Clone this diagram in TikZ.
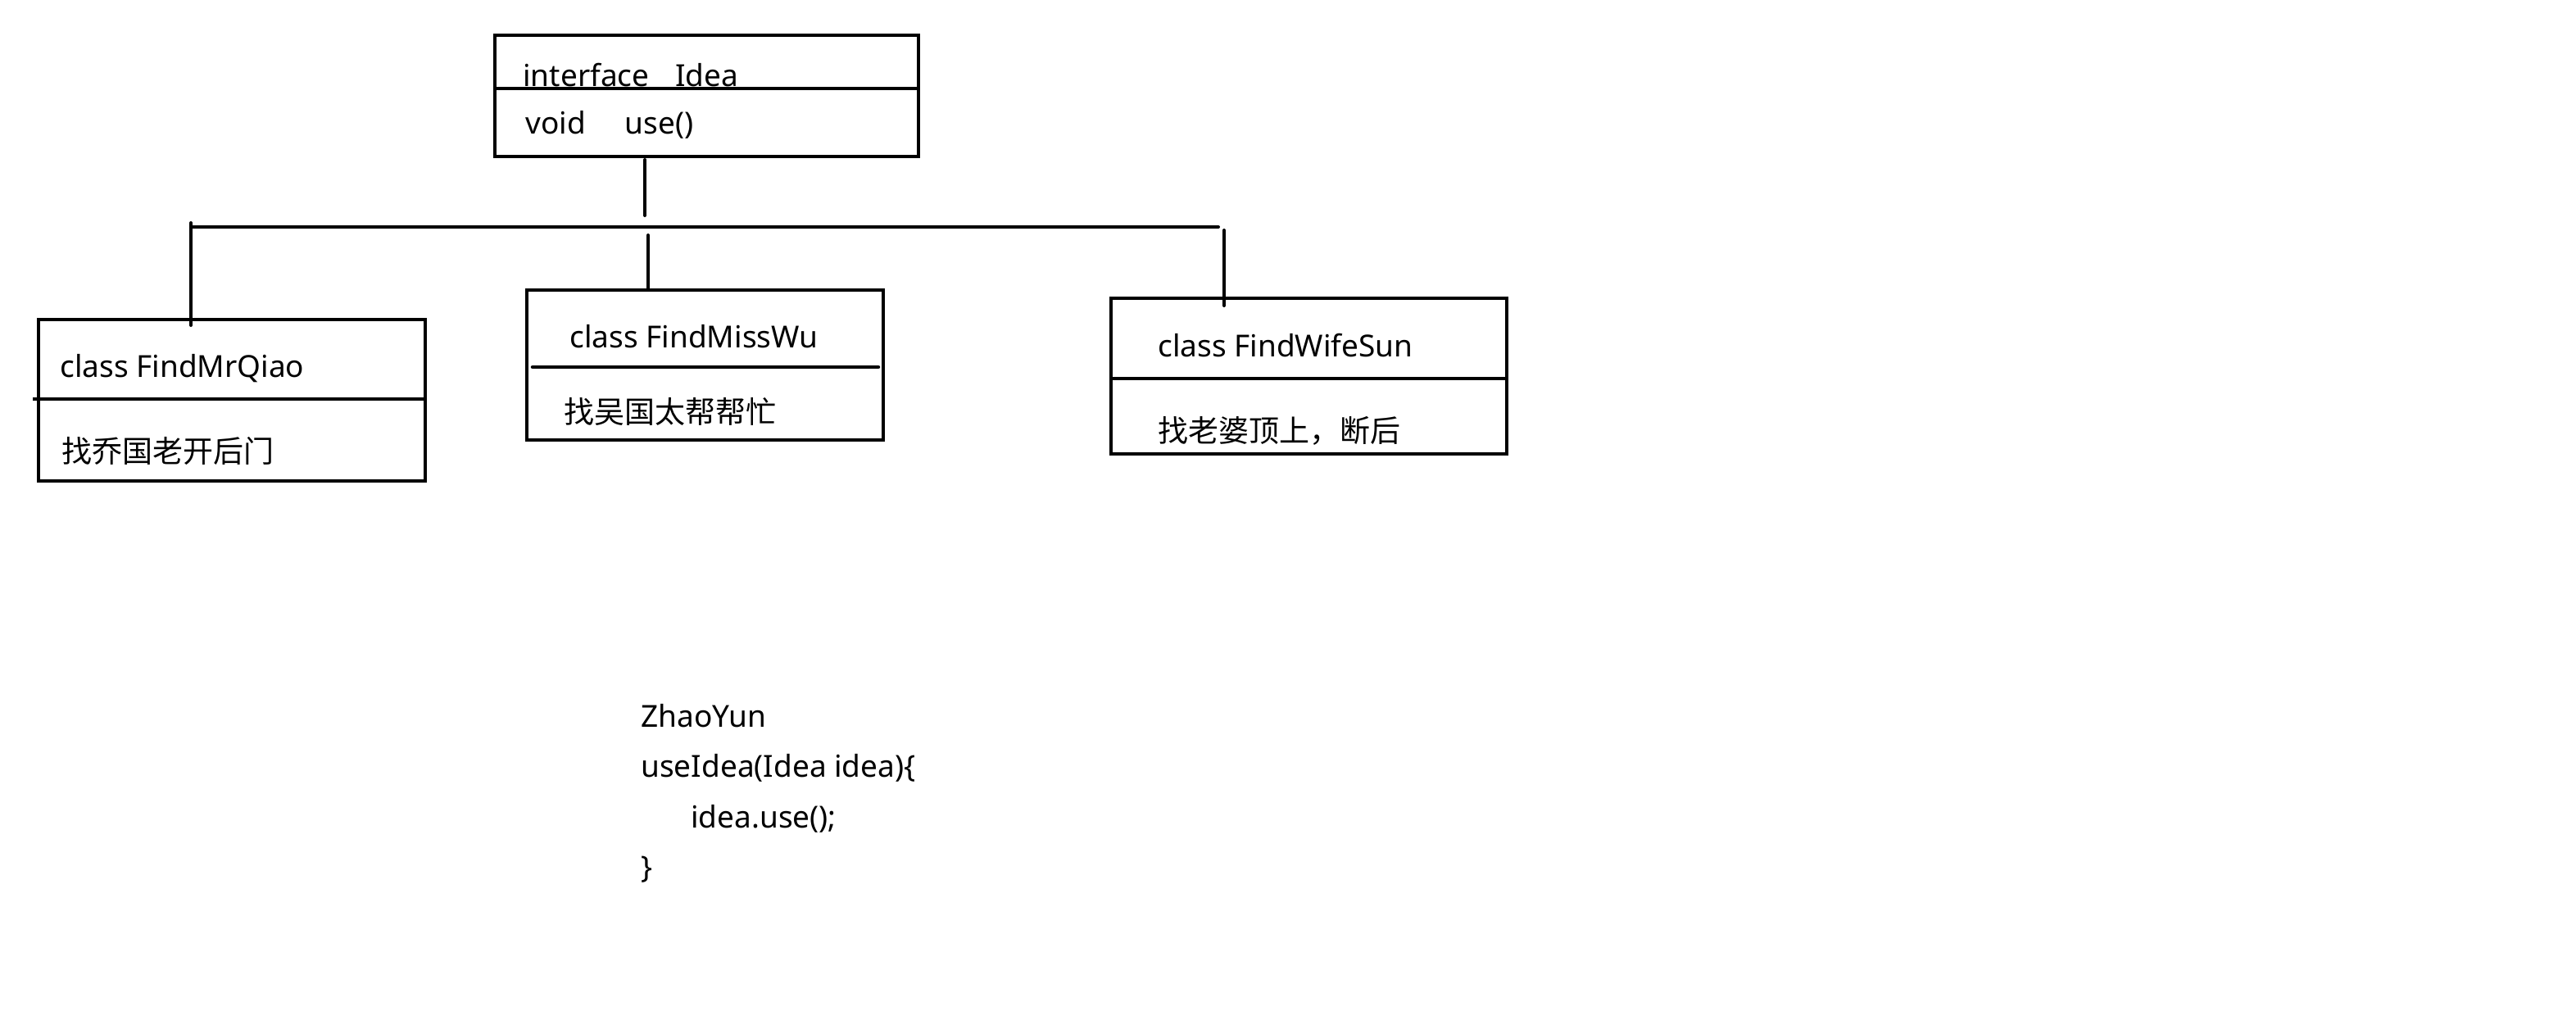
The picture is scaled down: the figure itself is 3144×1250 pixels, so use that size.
\documentclass[tikz,border=0pt]{standalone}
\usepackage{fontspec}
\setmainfont{Noto Sans}
\newfontfamily\cjk{Noto Sans CJK SC}
\usetikzlibrary{fit}
\begin{document}
\begin{tikzpicture}[x=0.5pt,y=-0.5pt,
  box/.style={draw=black,line width=2.25pt,inner sep=0pt,fill=none},
  divline/.style={draw=black,line width=2.25pt},
  conn/.style={draw=black,line width=2pt,line cap=round},
  lbl/.style={inner sep=0pt,anchor=base west,font=\fontsize{18.5pt}{22pt}\selectfont},
  cjklbl/.style={inner sep=0pt,anchor=base west,font=\cjk\fontsize{18.5pt}{22pt}\selectfont},
]
\useasboundingbox[fill=white] (0,0) rectangle (3144,1250);

% interface box
\node[box,fit={(604,43)(1121,191)}] (idea) {};
\draw[divline] (604,108) -- (1121,108);
\node[lbl] (ideaT) at (638,105) {interface\hspace{16pt}Idea};
\node[lbl] (ideaM) at (641,163) {void\hspace{24pt}use()};

% FindMrQiao
\node[box,fit={(47,390)(519,587)}] (qiao) {};
\draw[divline] (40,487) -- (519,487);
\node[lbl] (qiaoT) at (73,460) {class FindMrQiao};
\node[cjklbl] (qiaoM) at (75,564) {找乔国老开后门};

% FindMissWu
\node[box,fit={(643,354)(1078,537)}] (wu) {};
\draw[divline,line cap=round] (650,448) -- (1072,448);
\node[lbl] (wuT) at (695,424) {class FindMissWu};
\node[cjklbl] (wuM) at (688,516) {找吴国太帮帮忙};

% FindWifeSun
\node[box,fit={(1356,364)(1839,554)}] (sun) {};
\draw[divline] (1356,462) -- (1839,462);
\node[lbl] (sunT) at (1413,435) {class FindWifeSun};
\node[cjklbl] (sunM) at (1413,539) {找老婆顶上，断后};

% connectors
\coordinate (v0a) at (787,195);
\coordinate (v0b) at (787,263);
\coordinate (hl) at (233,277);
\coordinate (hr) at (1487,277);
\coordinate (la) at (233,272);
\coordinate (lb) at (233,397);
\coordinate (ma) at (791,287);
\coordinate (mb) at (791,353);
\coordinate (ra) at (1494,281);
\coordinate (rb) at (1494,373);
\draw[conn] (v0a) -- (v0b);
\draw[conn] (hl) -- (hr);
\draw[conn] (la) -- (lb);
\draw[conn] (ma) -- (mb);
\draw[conn] (ra) -- (rb);

% code
\node[lbl] (c1) at (782,887) {ZhaoYun};
\node[lbl] (c2) at (782,948) {useIdea(Idea idea)\{};
\node[lbl] (c3) at (843,1010) {idea.use();};
\node[lbl] (c4) at (782,1071) {\}};
\end{tikzpicture}
\end{document}
